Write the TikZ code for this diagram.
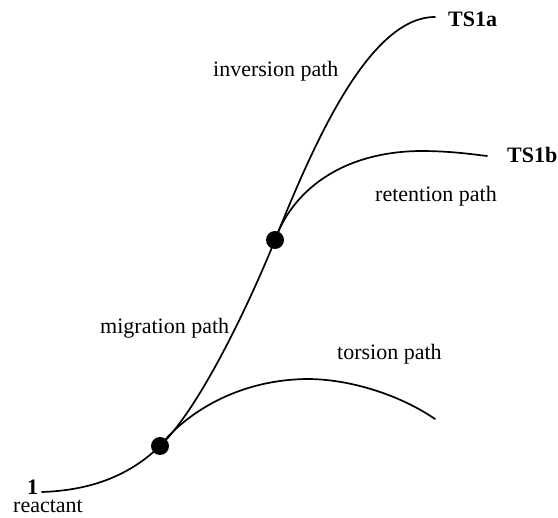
\documentclass[tikz,border=0pt]{standalone}
\usepackage{fontspec}
\setmainfont{Liberation Serif}
\begin{document}
\begin{tikzpicture}[x=1pt,y=-1pt,
  tag/.style={font=\fontsize{22}{26}\selectfont, inner sep=0pt, anchor=base west},
  boldtag/.style={tag, font=\fontsize{22}{26}\selectfont\bfseries},
  curve/.style={line width=1.7pt, line cap=round},
  junction/.style={circle, fill=black, inner sep=0pt, minimum size=18pt}]
\useasboundingbox (0,0) rectangle (558,518);

% path end points and branch points
\coordinate (start) at (42,492);
\coordinate (endA) at (435,17);
\coordinate (endB) at (487,156);
\coordinate (endT) at (435,419);
\coordinate (b1) at (160,446);
\coordinate (b2) at (275,240);

% reactant -> migration -> inversion
\draw[curve] (start) .. controls (100,490) and (135,470) .. (b1)
  .. controls (200,408) and (250,302) .. (b2)
  .. controls (315,140) and (370,17) .. (endA);
% retention branch
\draw[curve] (b2) .. controls (292,192) and (340,152) .. (420,151)
  .. controls (450,151) and (470,154) .. (endB);
% torsion branch
\draw[curve] (b1) .. controls (180,420) and (230,380) .. (307,379)
  .. controls (350,379) and (400,395) .. (endT);

% branch points
\node[junction] (j1) at (b1) {};
\node[junction] (j2) at (b2) {};

% labels
\node[boldtag] (n1) at (27,495) {1};
\node[tag] (react) at (13,513) {reactant};
\node[tag] (inv) at (213,77) {inversion path};
\node[boldtag] (ts1a) at (448,27) {TS1a};
\node[boldtag] (ts1b) at (507,163) {TS1b};
\node[tag] (ret) at (375,202) {retention path};
\node[tag] (mig) at (100,334) {migration path};
\node[tag] (tor) at (337,360) {torsion path};
\end{tikzpicture}
\end{document}
